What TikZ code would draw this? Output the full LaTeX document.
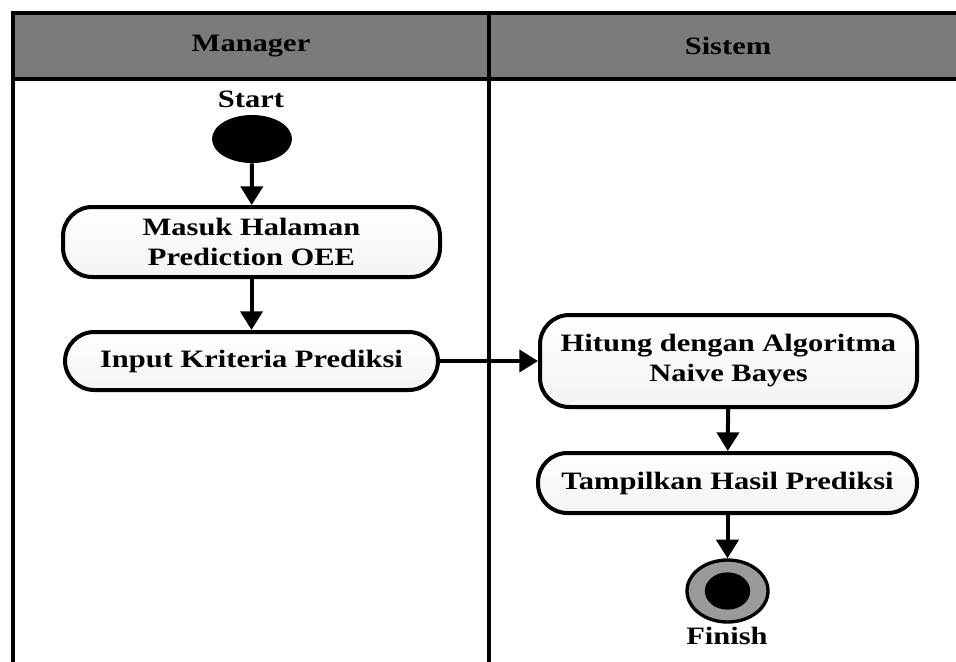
\documentclass[tikz,border=0pt]{standalone}
\usepackage{fontspec}
\setmainfont{Liberation Serif}
\newfontfamily\lanefont[FakeStretch=1.22]{Liberation Serif}
\usetikzlibrary{arrows.meta,shapes.geometric,shadows}
\definecolor{headgray}{HTML}{7B7B7B}
\definecolor{ringgray}{HTML}{9A9A9A}
\definecolor{boxfill}{HTML}{F3F3F3}
\begin{document}
\begin{tikzpicture}[x=0.75pt,y=-0.75pt,
  lanetext/.style={font=\lanefont\bfseries\fontsize{18.75}{22.5}\selectfont, align=center, inner sep=0pt},
  action/.style={draw=black, line width=3pt, rounded corners=22pt,
    top color=white, bottom color=boxfill, lanetext,
    drop shadow={opacity=0.12, shadow xshift=1pt, shadow yshift=-1pt}},
  flow/.style={line width=3pt, -{Triangle[width=16.5pt,length=14pt]}},
  lane/.style={line width=3.5pt}]
\useasboundingbox (0,0) rectangle (956,661);
\clip (0,0) rectangle (956,661);

% swimlane frame
\draw[lane, fill=headgray] (13,13) rectangle (990,79);
\draw[lane] (13,79) -- (13,680);
\draw[lane] (489,13) -- (489,680);
\node[lanetext] (hmgr) at (251,46) {Manager};
\node[lanetext] (hsys) at (728,46) {Sistem};

% initial node
\node[ellipse, fill=black, minimum width=60pt, minimum height=36pt, inner sep=0pt] (start) at (252,139) {};
\node[lanetext] (startlbl) at (251,99) {Start};

% actions
\node[action, minimum width=282.75pt, minimum height=52.5pt] (masuk) at (251.5,242) {Masuk Halaman\\Prediction OEE};
\node[action, minimum width=279.75pt, minimum height=43.5pt] (input) at (251.5,361) {Input Kriteria Prediksi};
\node[action, minimum width=282.75pt, minimum height=69pt] (hitung) at (728.5,361) {Hitung dengan Algoritma\\Naive Bayes};
\node[action, minimum width=284.25pt, minimum height=45pt] (tampil) at (727.5,483) {Tampilkan Hasil Prediksi};

% final node
\node[ellipse, draw=black, line width=2.5pt, fill=ringgray, minimum width=60.75pt, minimum height=46.5pt, inner sep=0pt] (finish) at (727.5,591) {};
\node[ellipse, fill=black, minimum width=34pt, minimum height=28pt, inner sep=0pt] (finishdot) at (finish.center) {};
\node[lanetext] (finishlbl) at (727,636) {Finish};

% control flow
\draw[flow] (start) -- (masuk);
\draw[flow] (masuk) -- (input);
\draw[flow] (input) -- (hitung);
\draw[flow] (hitung) -- (tampil);
\draw[flow] (tampil) -- (finish);
\end{tikzpicture}
\end{document}
